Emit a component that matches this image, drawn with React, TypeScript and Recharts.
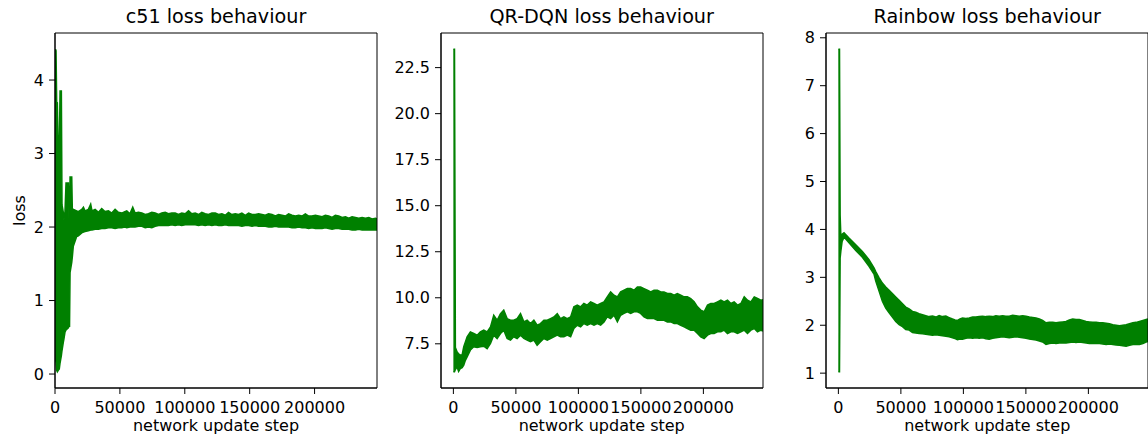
import React from "react";
import { ComposedChart, Area, XAxis, YAxis, ReferenceArea } from "recharts";

// ---- c51 ----
const c51Steps = [
  0, 400, 800, 1300, 1800, 2500, 3300, 3900, 4900, 5400, 6400, 6900, 7700, 8500, 10300, 10800, 11200,
  11600, 12900, 13400, 14100, 16700, 18000, 20600, 21900, 23100, 25700, 27500, 28500, 30900, 33500,
  36000, 38500, 41200, 43700, 46300, 48800, 51400, 53800, 55300, 57700, 59900, 61700, 64300, 66900,
  69500, 72000, 74600, 77200, 79800, 82300, 84900, 87400, 90000, 92600, 95100, 97700, 100300, 102900,
  105400, 108000, 110600, 113100, 115700, 118300, 120900, 123500, 126000, 128600, 131200, 133700,
  136300, 138900, 141500, 144000, 146600, 149200, 151800, 154300, 156900, 159500, 162000, 164600,
  167200, 169800, 172300, 174900, 177500, 180000, 182600, 185200, 187800, 190300, 192900, 195500,
  198000, 200600, 203200, 205800, 208300, 210900, 213500, 216000, 218600, 221200, 223800, 226300,
  228900, 231500, 234000, 236600, 239200, 241800, 244300, 246900, 248100,
];
const c51Low = [
  0.3, 0.2, 0.16, 0.05, 0.03, 0.05, 0.07, 0.15, 0.25, 0.32, 0.43, 0.48, 0.57, 0.6, 0.63, 0.65, 0.65,
  1.38, 1.52, 1.6, 1.74, 1.87, 1.88, 1.92, 1.93, 1.94, 1.95, 1.96, 1.96, 1.97, 1.97,
  1.98, 1.98, 1.99, 1.99, 1.98, 1.99, 1.99, 2.0, 1.99, 2.0, 2.0, 2.0, 2.01, 2.01,
  1.99, 2.0, 1.99, 2.01, 2.02, 2.02, 2.02, 2.02, 2.03, 2.02, 2.03, 2.02, 2.03, 2.03,
  2.03, 2.03, 2.02, 2.03, 2.02, 2.03, 2.02, 2.03, 2.02, 2.02, 2.03, 2.02,
  2.02, 2.02, 2.02, 2.01, 2.02, 2.02, 2.01, 2.02, 2.01, 2.01, 2.01, 2.0,
  2.0, 2.01, 2.0, 2.0, 2.0, 2.0, 1.99, 1.99, 2.0, 1.99, 1.99, 1.98,
  1.99, 1.98, 1.98, 1.98, 1.99, 1.98, 1.97, 1.98, 1.98, 1.97, 1.97, 1.97,
  1.96, 1.96, 1.97, 1.96, 1.96, 1.96, 1.96, 1.96, 1.96,
];
const c51High = [
  2.0, 4.42, 4.4, 3.7, 3.69, 3.03, 3.05, 3.85, 3.85, 2.3, 2.2, 2.1, 2.21, 2.6, 2.6, 2.1, 2.1,
  2.68, 2.68, 2.19, 2.24, 2.22, 2.21, 2.24, 2.27, 2.22, 2.24, 2.31, 2.22, 2.24, 2.2,
  2.25, 2.21, 2.22, 2.19, 2.24, 2.2, 2.19, 2.21, 2.22, 2.18, 2.27, 2.19, 2.2, 2.19,
  2.17, 2.18, 2.2, 2.19, 2.17, 2.19, 2.2, 2.18, 2.19, 2.19, 2.17, 2.19, 2.18, 2.22,
  2.18, 2.19, 2.17, 2.2, 2.18, 2.17, 2.19, 2.19, 2.17, 2.18, 2.16, 2.2,
  2.17, 2.18, 2.17, 2.19, 2.16, 2.19, 2.17, 2.17, 2.18, 2.17, 2.16, 2.18,
  2.17, 2.15, 2.17, 2.16, 2.15, 2.18, 2.16, 2.15, 2.16, 2.15, 2.18, 2.15,
  2.15, 2.16, 2.15, 2.14, 2.16, 2.15, 2.13, 2.16, 2.15, 2.13, 2.14, 2.12,
  2.14, 2.13, 2.12, 2.13, 2.12, 2.13, 2.11, 2.12, 2.11,
];

// ---- QR-DQN ----
const qrSteps = [
  0, 900, 1600, 2900, 4200, 5600, 7000, 8300, 9600, 11000, 13600, 16300, 19000, 21600, 24300, 27000,
  29700, 32300, 35000, 37700, 40300, 43000, 45700, 48300, 51000, 53700, 56400, 59000, 61700, 64400,
  67000, 69700, 72400, 75100, 77700, 80400, 83100, 85700, 88400, 91100, 93800, 96400, 99100, 101800,
  104400, 107100, 109800, 112500, 115100, 117800, 120500, 123100, 125800, 128500, 131200, 133800,
  136500, 139200, 141800, 144500, 147200, 149800, 152500, 155200, 157900, 160500, 163200, 165900,
  168500, 171200, 173900, 176600, 179200, 181900, 184600, 187200, 189900, 192600, 195300, 197900,
  200600, 203300, 205900, 208600, 211300, 214000, 216600, 219300, 222000, 224600, 227300, 230000,
  232700, 235300, 238000, 240700, 243300, 246000, 247700,
];
const qrLow = [
  5.98, 5.98, 6.1, 6.25, 6.0, 6.16, 6.2, 6.34, 6.6, 6.79, 7.16, 7.34, 7.3, 7.34, 7.37, 7.24,
  7.52, 7.97, 7.79, 8.06, 8.24, 7.79, 7.7, 7.88, 7.79, 7.97, 7.79, 7.7, 7.61, 7.7,
  7.42, 7.61, 7.79, 7.7, 7.79, 7.88, 7.97, 7.88, 7.88, 7.97, 7.88, 8.33, 8.51, 8.42,
  8.6, 8.51, 8.6, 8.51, 8.6, 8.51, 8.69, 8.96, 8.87, 9.05, 8.69, 9.05,
  9.15, 9.24, 9.15, 9.24, 9.24, 9.15, 8.96, 8.87, 8.87, 8.87, 8.78, 8.78,
  8.78, 8.69, 8.69, 8.6, 8.6, 8.51, 8.42, 8.33, 8.24, 8.24, 8.06, 7.88,
  7.79, 7.97, 8.06, 8.06, 8.15, 8.15, 8.24, 8.06, 8.15, 8.15, 8.06, 8.15,
  8.24, 8.06, 8.24, 8.33, 8.15, 8.24, 8.2,
];
const qrHigh = [
  23.5, 23.5, 7.3, 7.07, 6.95, 6.89, 6.9, 7.34, 7.6, 7.88, 8.15, 8.06, 7.97, 8.15, 8.24, 8.15,
  8.42, 9.05, 8.78, 9.14, 9.33, 8.87, 8.78, 8.78, 8.87, 9.14, 8.69, 8.78, 8.6, 8.78,
  8.51, 8.6, 8.78, 8.78, 8.87, 8.96, 9.14, 8.87, 8.96, 8.87, 8.96, 9.51, 9.6, 9.51,
  9.69, 9.6, 9.78, 9.69, 9.6, 9.69, 9.78, 10.05, 10.32, 10.14, 10.05, 10.32,
  10.41, 10.5, 10.5, 10.41, 10.59, 10.59, 10.5, 10.41, 10.32, 10.41, 10.41, 10.32,
  10.32, 10.23, 10.23, 10.14, 10.23, 10.14, 10.05, 10.05, 9.96, 9.78, 9.51, 9.33,
  9.24, 9.6, 9.69, 9.69, 9.78, 9.87, 9.78, 9.87, 9.69, 9.78, 9.6, 9.69,
  10.05, 9.87, 9.78, 10.05, 9.96, 9.87, 9.9,
];

// ---- Rainbow ----
const rbSteps = [
  0, 900, 1400, 2000, 3000, 4500, 8500, 13900, 19200, 24500, 28600, 29900, 32600, 35200, 37900,
  40600, 43200, 45900, 48600, 51300, 53900, 56600, 59300, 61900, 64600, 67300, 69900, 72600, 75300,
  78000, 80600, 83300, 86000, 88600, 91300, 93300, 95300, 97300, 99300, 102000, 104700, 107400,
  110000, 112700, 115400, 118000, 120700, 123400, 126000, 128700, 131400, 134000, 136700, 139400,
  142100, 144700, 147400, 150100, 152800, 155400, 158100, 160800, 163400, 166100, 168800, 171500,
  174100, 176800, 179500, 182100, 184800, 187500, 190100, 192800, 195500, 198200, 200800, 203500,
  206200, 208900, 211500, 214200, 216900, 219500, 222200, 224900, 227500, 230200, 232900, 235600,
  238200, 240900, 243600, 246200, 247700,
];
const rbLow = [
  1.03, 1.03, 3.4, 3.55, 3.75, 3.84, 3.72, 3.56, 3.42, 3.23, 3.06, 2.92, 2.71, 2.5, 2.36,
  2.26, 2.17, 2.08, 2.01, 1.97, 1.91, 1.9, 1.85, 1.84, 1.83, 1.82, 1.81, 1.8, 1.79,
  1.8, 1.79, 1.78, 1.77, 1.76, 1.74, 1.72, 1.7, 1.71, 1.71, 1.73, 1.74, 1.73,
  1.74, 1.73, 1.74, 1.72, 1.71, 1.73, 1.74, 1.75, 1.76, 1.75, 1.74, 1.75,
  1.76, 1.75, 1.74, 1.73, 1.71, 1.7, 1.69, 1.67, 1.65, 1.6, 1.62, 1.63,
  1.62, 1.63, 1.63, 1.63, 1.64, 1.65, 1.64, 1.65, 1.64, 1.63, 1.62, 1.62,
  1.62, 1.62, 1.61, 1.6, 1.61, 1.6, 1.59, 1.58, 1.57, 1.56, 1.58, 1.6,
  1.6, 1.6, 1.62, 1.65, 1.66,
];
const rbHigh = [
  7.76, 7.76, 4.3, 3.85, 3.9, 3.93, 3.82, 3.68, 3.54, 3.37, 3.19, 3.12, 2.99, 2.88, 2.8,
  2.73, 2.66, 2.59, 2.52, 2.45, 2.38, 2.34, 2.29, 2.27, 2.24, 2.22, 2.2, 2.18, 2.19,
  2.17, 2.2, 2.18, 2.19, 2.16, 2.13, 2.11, 2.1, 2.13, 2.15, 2.14, 2.15, 2.17,
  2.17, 2.18, 2.19, 2.18, 2.19, 2.18, 2.2, 2.19, 2.2, 2.19, 2.19, 2.21,
  2.2, 2.19, 2.2, 2.19, 2.17, 2.16, 2.15, 2.13, 2.1, 2.05, 2.06, 2.06,
  2.05, 2.06, 2.07, 2.08, 2.11, 2.13, 2.12, 2.12, 2.1, 2.08, 2.07, 2.06,
  2.06, 2.05, 2.05, 2.04, 2.03, 2.01, 2.0, 1.99, 2.0, 2.01, 2.03, 2.05,
  2.06, 2.08, 2.1, 2.12, 2.13,
];

const X_TICKS = [0, 50000, 100000, 150000, 200000];
const TITLES = ["c51 loss behaviour", "QR-DQN loss behaviour", "Rainbow loss behaviour"];
const X_LABEL = "network update step";
const Y_LABEL = "loss";

const GREEN = "#008000";
const FONT = "'DejaVu Sans', sans-serif";
const CHART_W = 378;
const CHART_H = 443;
const AXIS_W = 55;
const PLOT_W = 322;

type PanelProps = {
  left: number;
  steps: number[];
  low: number[];
  high: number[];
  xDomain: [number, number];
  yDomain: [number, number];
  yTicks: number[];
  fmt: (v: number) => string;
};

const LossPanel: React.FC<PanelProps> = ({ left, steps, low, high, xDomain, yDomain, yTicks, fmt }) => {
  const data = steps.map((s, i) => ({ step: s, band: [low[i], high[i]] }));
  return (
    <div style={{ position: "absolute", left, top: 0 }}>
      <ComposedChart
        width={CHART_W}
        height={CHART_H}
        data={data}
        margin={{ top: 33, right: 1, bottom: 0, left: 0 }}
      >
        <XAxis
          dataKey="step"
          type="number"
          domain={xDomain}
          allowDataOverflow
          ticks={X_TICKS}
          interval={0}
          height={55}
          tickSize={6}
          tickMargin={8}
          stroke="#000"
          tick={{ fill: "#000", fontSize: 16 }}
        />
        <YAxis
          type="number"
          domain={yDomain}
          allowDataOverflow
          ticks={yTicks}
          interval={0}
          width={AXIS_W}
          tickSize={6}
          tickMargin={5}
          tickFormatter={fmt}
          stroke="#000"
          tick={{ fill: "#000", fontSize: 16 }}
        />
        <Area
          dataKey="band"
          type="linear"
          stroke={GREEN}
          strokeWidth={1.5}
          fill={GREEN}
          fillOpacity={1}
          dot={false}
          activeDot={false}
          isAnimationActive={false}
        />
        <ReferenceArea
          x1={xDomain[0]}
          x2={xDomain[1]}
          y1={yDomain[0]}
          y2={yDomain[1]}
          fill="none"
          stroke="#000"
          strokeWidth={1}
          ifOverflow="visible"
        />
      </ComposedChart>
    </div>
  );
};

const PLOT_LEFTS = [55, 440.7, 826.3];

export default function App() {
  const int = (v: number) => String(v);
  const one = (v: number) => v.toFixed(1);
  return (
    <div
      style={{
        position: "absolute",
        left: 0,
        top: 0,
        width: 1148,
        height: 443,
        overflow: "hidden",
        background: "#fff",
        fontFamily: FONT,
      }}
    >
      <LossPanel
        left={PLOT_LEFTS[0] - AXIS_W}
        steps={c51Steps}
        low={c51Low}
        high={c51High}
        xDomain={[0, 248100]}
        yDomain={[-0.19, 4.64]}
        yTicks={[0, 1, 2, 3, 4]}
        fmt={int}
      />
      <LossPanel
        left={PLOT_LEFTS[1] - AXIS_W}
        steps={qrSteps}
        low={qrLow}
        high={qrHigh}
        xDomain={[-9900, 247700]}
        yDomain={[5.1, 24.38]}
        yTicks={[7.5, 10, 12.5, 15, 17.5, 20, 22.5]}
        fmt={one}
      />
      <LossPanel
        left={PLOT_LEFTS[2] - AXIS_W}
        steps={rbSteps}
        low={rbLow}
        high={rbHigh}
        xDomain={[-9900, 247700]}
        yDomain={[0.69, 8.1]}
        yTicks={[1, 2, 3, 4, 5, 6, 7, 8]}
        fmt={int}
      />
      <svg
        width={1148}
        height={443}
        style={{ position: "absolute", left: 0, top: 0, pointerEvents: "none" }}
      >
        {TITLES.map((t, i) => (
          <text key={t} x={PLOT_LEFTS[i] + PLOT_W / 2} y={23.4} textAnchor="middle" fontSize={19.2} fill="#000">
            {t}
          </text>
        ))}
        {PLOT_LEFTS.map((l) => (
          <text key={l} x={l + PLOT_W / 2} y={431} textAnchor="middle" fontSize={16} fill="#000">
            {X_LABEL}
          </text>
        ))}
        <text x={25} y={210.5} transform="rotate(-90 25 210.5)" textAnchor="middle" fontSize={16} fill="#000">
          {Y_LABEL}
        </text>
      </svg>
    </div>
  );
}
